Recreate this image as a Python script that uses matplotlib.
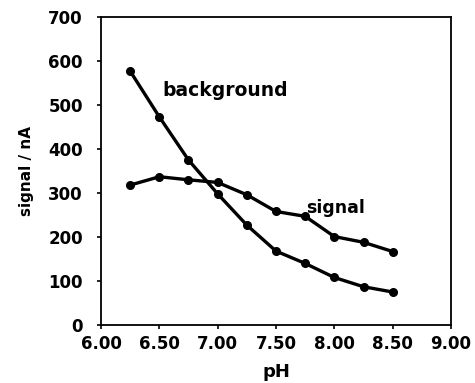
"""
Signal and background current versus pH.
"""

import matplotlib.pyplot as plt
from matplotlib.ticker import FormatStrFormatter

ph = [6.25, 6.50, 6.75, 7.00, 7.25, 7.50, 7.75, 8.00, 8.25, 8.50]
background = [577, 473, 375, 298, 227, 168, 140, 108, 87, 75]
signal = [318, 337, 330, 324, 296, 258, 247, 201, 188, 167]

x_ticks = [6.00, 6.50, 7.00, 7.50, 8.00, 8.50, 9.00]
y_ticks = [0, 100, 200, 300, 400, 500, 600, 700]

plt.rcParams["font.family"] = ["DejaVu Sans"]
plt.rcParams["font.weight"] = "bold"

fig = plt.figure(figsize=(4.75, 3.83), dpi=100)
ax = fig.add_axes([0.2126, 0.1514, 0.7369, 0.8042])

for series in (background, signal):
    ax.plot(ph, series, color="black", linewidth=2.4, marker="o",
            markersize=5.5, markerfacecolor="black", markeredgecolor="black")

ax.text(6.53, 533, "background", fontsize=13.5, fontweight="bold",
        va="center", ha="left")
ax.text(7.76, 265, "signal", fontsize=12.5, fontweight="bold",
        va="center", ha="left")

ax.set_xlim(6.0, 9.0)
ax.set_ylim(0, 700)
ax.set_xticks(x_ticks)
ax.set_yticks(y_ticks)
ax.xaxis.set_major_formatter(FormatStrFormatter("%.2f"))
ax.tick_params(direction="out", length=3, width=1.2, labelsize=12)
ax.tick_params(axis="x", pad=4.5)
ax.tick_params(axis="y", pad=10)
for label in ax.get_xticklabels() + ax.get_yticklabels():
    label.set_fontweight("bold")
for spine in ax.spines.values():
    spine.set_linewidth(1.3)

ax.set_xlabel("pH", fontsize=13, fontweight="bold", labelpad=7)
ax.set_ylabel("signal / nA", fontsize=11, fontweight="bold", labelpad=10)

fig.savefig("out.png", dpi=100)
